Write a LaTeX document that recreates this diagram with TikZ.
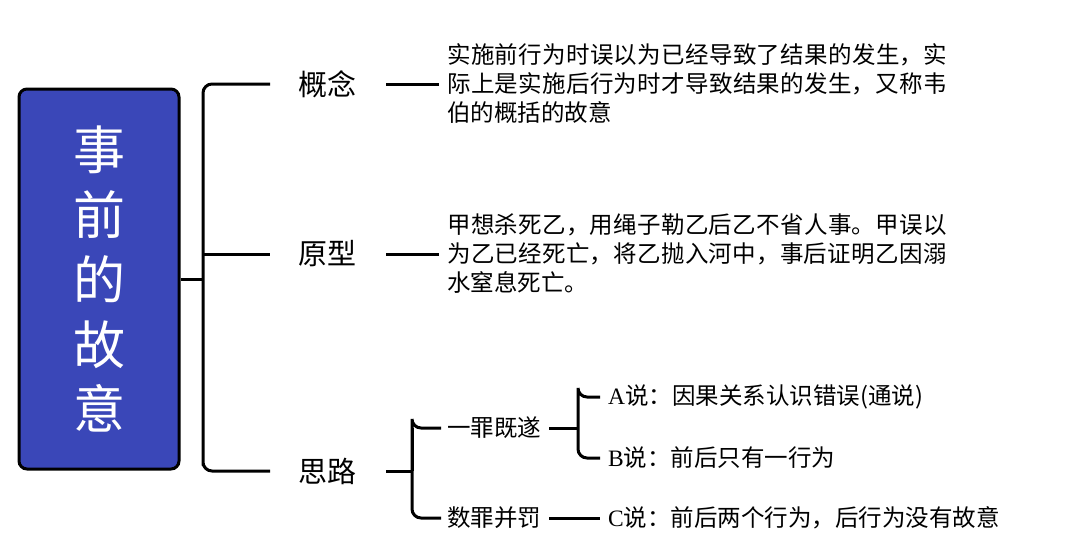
\documentclass[tikz,border=0pt]{standalone}
\usepackage{fontspec}
\setmainfont{Noto Sans CJK SC}
\newfontfamily\lat{Liberation Serif}
\XeTeXlinebreaklocale "zh"
\XeTeXlinebreakskip=0pt plus 1pt
\usetikzlibrary{positioning}
\definecolor{boxblue}{HTML}{3A47B8}
\tikzset{
br/.style={line width=3pt, rounded corners=9pt}, % bracket lines
lab/.style={font=\fontsize{29}{32}\selectfont, inner sep=0pt, anchor=west},
txt/.style={font=\fontsize{23.5}{29}\selectfont, inner sep=0pt, anchor=west, align=left, text width=515pt},
sub/.style={font=\fontsize{23.5}{29}\selectfont, inner sep=0pt, anchor=west},
}

\begin{document}
\begin{tikzpicture}[x=1pt, y=-1pt]
    \useasboundingbox (0,0) rectangle (1080,560);
    % main box
    \node[draw, line width=3pt, fill=boxblue, rounded corners=8pt, minimum width=160pt, minimum height=380pt, text=white, align=center, font=\fontsize{52}{65}\selectfont] (main) at (99,279) {事\\前\\的\\故\\意};
    % first level
    \node[lab] (gn) at (298,84) {概念};
    \node[lab] (yx) at (298,254) {原型};
    \node[lab] (sl) at (298,471) {思路};
    \draw[br] (main.east) -- ([xshift=-95pt]yx.west |- main.east);
    \draw[br] ([xshift=-28pt]gn.west) -| ([xshift=-95pt]sl.west) |- ([xshift=-28pt]sl.west);
    \draw[br] ([xshift=-95pt]yx.west) -- ([xshift=-28pt]yx.west);
    % texts
    \node[txt] (gnt) at (447,84) {实施前行为时误以为已经导致了结果的发生，实际上是实施后行为时才导致结果的发生，又称韦伯的概括的故意};
    \node[txt] (yxt) at (447,254) {甲想杀死乙，用绳子勒乙后乙不省人事。甲误以为乙已经死亡，将乙抛入河中，事后证明乙因溺水窒息死亡。};
    \draw[line width=3pt] ([xshift=30pt]gn.east) -- ([xshift=-8pt]gnt.west);
    \draw[line width=3pt] ([xshift=30pt]yx.east) -- ([xshift=-8pt]yxt.west);
    % ideas
    \node[sub] (yz) at (447,428) {一罪既遂};
    \node[sub] (sz) at (447,518) {数罪并罚};
    \draw[line width=3pt] ([xshift=30pt]sl.east) -- ([xshift=-35pt]yz.west |- sl.west);
    \draw[br] ([xshift=-6pt]yz.west) -| ([xshift=-35pt]yz.west) |- ([xshift=-6pt]sz.west);
    \draw[br] ([xshift=-35pt]yz.west |- sl.west) -- ([xshift=-35pt]yz.west);
    \node[sub] (sa) at (608,397) {{\lat A}说：因果关系认识错误(通说)};
    \node[sub] (sb) at (608,458) {{\lat B}说：前后只有一行为};
    \node[sub] (sc) at (608,518) {{\lat C}说：前后两个行为，后行为没有故意};
    \draw[line width=3pt] ([xshift=8pt]yz.east) -- ([xshift=-30pt]sa.west |- yz.east);
    \draw[br] ([xshift=-8pt]sa.west) -| ([xshift=-30pt]sa.west) |- ([xshift=-8pt]sb.west);
    \draw[line width=3pt] ([xshift=8pt]sz.east) -- ([xshift=-8pt]sc.west);
\end{tikzpicture}
\end{document}
